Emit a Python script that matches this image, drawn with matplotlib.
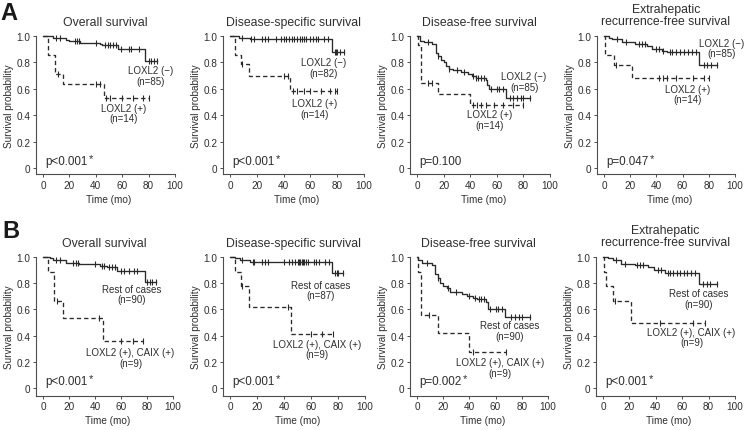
import numpy as np
import matplotlib
matplotlib.use("Agg")
import matplotlib.pyplot as plt

plt.rcParams["font.family"] = ["Liberation Sans", "DejaVu Sans"]

# ---- data: step times, survival after each step, end, censored times ----
# Row A : LOXL2 (-) vs LOXL2 (+)
A_OS_NEG_T = [0, 7.5, 17.5, 20, 28, 43, 45, 57, 77.5]
A_OS_NEG_S = [1.0, 0.985, 0.97, 0.96, 0.95, 0.94, 0.93, 0.90, 0.81]
A_OS_NEG_END = 86
A_OS_NEG_C = [10, 13, 24, 26, 27, 40, 47, 49, 51, 53, 55, 59, 65, 67, 73, 80, 82, 84, 86]
A_OS_POS_T = [0, 3.5, 9, 15, 46]
A_OS_POS_S = [1.0, 0.857, 0.714, 0.635, 0.53]
A_OS_POS_END = 80
A_OS_POS_C = [11, 40, 43, 48, 51, 60, 68, 76, 80]

A_DSS_NEG_T = [0, 7, 15, 76]
A_DSS_NEG_S = [1.0, 0.988, 0.975, 0.88]
A_DSS_NEG_END = 85
A_DSS_NEG_C = [9, 16, 18, 24, 26, 28, 34, 38, 40, 42, 44, 46, 48, 50, 52, 54, 55, 57,
               60, 62, 64, 66, 70, 73, 78, 79, 80, 82, 85]
A_DSS_POS_T = [0, 3.5, 8, 14, 45]
A_DSS_POS_S = [1.0, 0.857, 0.786, 0.70, 0.585]
A_DSS_POS_END = 80
A_DSS_POS_C = [9, 40, 43, 47, 50, 55, 60, 68, 75, 78, 80]

A_DFS_NEG_T = [0, 2, 5, 11, 14, 16, 18, 20, 22, 24, 27, 33, 38, 41, 44, 52, 53, 54, 67]
A_DFS_NEG_S = [1.0, 0.965, 0.953, 0.94, 0.87, 0.85, 0.82, 0.80, 0.77, 0.75, 0.74, 0.73,
               0.71, 0.70, 0.68, 0.665, 0.63, 0.597, 0.53]
A_DFS_NEG_END = 85
A_DFS_NEG_C = [8, 16, 24, 30, 35, 42, 44, 46, 48, 50, 56, 60, 62, 65, 70, 72, 75, 78, 80, 85]
A_DFS_POS_T = [0, 1, 3, 16, 39.5]
A_DFS_POS_S = [1.0, 0.93, 0.643, 0.563, 0.48]
A_DFS_POS_END = 80
A_DFS_POS_C = [8, 11, 42, 45, 48, 52, 58, 65, 72, 80]

A_ERFS_NEG_T = [0, 3.5, 6, 14, 24, 33, 37, 44, 48, 72.5]
A_ERFS_NEG_S = [1.0, 0.988, 0.976, 0.955, 0.94, 0.925, 0.905, 0.89, 0.877, 0.78]
A_ERFS_NEG_END = 86
A_ERFS_NEG_C = [10, 17, 27, 29, 31, 40, 42, 45, 50, 52, 55, 58, 61, 64, 67, 70, 76, 79, 82, 86]
A_ERFS_POS_T = [0, 1, 7.5, 21]
A_ERFS_POS_S = [1.0, 0.857, 0.78, 0.685]
A_ERFS_POS_END = 80
A_ERFS_POS_C = [9, 42, 45, 48, 55, 68, 76, 80]

# Row B : rest of cases vs LOXL2 (+), CAIX (+)
B_OS_REST_T = [0, 5, 7.5, 18, 28, 43.5, 49, 57, 78.5]
B_OS_REST_S = [1.0, 0.99, 0.977, 0.955, 0.945, 0.932, 0.922, 0.892, 0.81]
B_OS_REST_END = 87
B_OS_REST_C = [10, 13, 23, 25, 27, 40, 45, 47, 51, 53, 55, 60, 62, 66, 70, 72, 80, 82, 84, 87]
B_OS_POS_T = [0, 4, 8.5, 15, 46.5]
B_OS_POS_S = [1.0, 0.889, 0.667, 0.533, 0.356]
B_OS_POS_END = 77
B_OS_POS_C = [10.5, 43, 60, 69, 77]

B_DSS_REST_T = [0, 4, 7.5, 15, 75.5]
B_DSS_REST_S = [1.0, 0.99, 0.977, 0.965, 0.876]
B_DSS_REST_END = 84
B_DSS_REST_C = [9, 17, 18, 24, 26, 28, 40, 44, 46, 48, 50, 51, 52, 53, 54, 55, 56, 58,
                62, 64, 66, 70, 73, 78, 79, 80, 84]
B_DSS_POS_T = [0, 3.5, 8, 14, 45]
B_DSS_POS_S = [1.0, 0.889, 0.778, 0.622, 0.415]
B_DSS_POS_END = 76
B_DSS_POS_C = [9, 43, 60, 68, 76]

B_DFS_REST_T = [0, 1, 4, 11.5, 14, 16, 17.7, 20, 22.8, 25, 34, 38, 43, 45.5, 53, 54.4, 67]
B_DFS_REST_S = [1.0, 0.977, 0.955, 0.94, 0.87, 0.84, 0.80, 0.78, 0.76, 0.735, 0.72, 0.70,
                0.69, 0.678, 0.653, 0.603, 0.539]
B_DFS_REST_END = 86
B_DFS_REST_C = [8, 16, 24, 30, 40, 44, 47, 49, 51, 56, 60, 62, 65, 72, 75, 78, 80, 86]
B_DFS_POS_T = [0, 0.5, 3, 16, 40]
B_DFS_POS_S = [1.0, 0.889, 0.556, 0.417, 0.278]
B_DFS_POS_END = 68
B_DFS_POS_C = [9, 43, 68]

B_ERFS_REST_T = [0, 3.8, 7.6, 14, 24, 34, 39, 47, 72.7]
B_ERFS_REST_S = [1.0, 0.99, 0.977, 0.95, 0.94, 0.92, 0.90, 0.88, 0.797]
B_ERFS_REST_END = 86
B_ERFS_REST_C = [10, 17, 26, 28, 30, 42, 44, 49, 51, 53, 56, 58, 61, 64, 67, 70, 76, 79, 81, 86]
B_ERFS_POS_T = [0, 0.5, 2, 7.6, 21.5]
B_ERFS_POS_S = [1.0, 0.889, 0.778, 0.667, 0.50]
B_ERFS_POS_END = 77
B_ERFS_POS_C = [9, 43, 68, 77]

TITLES = ["Overall survival", "Disease-specific survival", "Disease-free survival",
          "Extrahepatic\nrecurrence-free survival"]
A_LABELS = [(("LOXL2 (\u2212)", "(n=85)"), ("LOXL2 (+)", "(n=14)")),
            (("LOXL2 (\u2212)", "(n=82)"), ("LOXL2 (+)", "(n=14)")),
            (("LOXL2 (\u2212)", "(n=85)"), ("LOXL2 (+)", "(n=14)")),
            (("LOXL2 (\u2212)", "(n=85)"), ("LOXL2 (+)", "(n=14)"))]
B_LABELS = [(("Rest of cases", "(n=90)"), ("LOXL2 (+), CAIX (+)", "(n=9)")),
            (("Rest of cases", "(n=87)"), ("LOXL2 (+), CAIX (+)", "(n=9)")),
            (("Rest of cases", "(n=90)"), ("LOXL2 (+), CAIX (+)", "(n=9)")),
            (("Rest of cases", "(n=90)"), ("LOXL2 (+), CAIX (+)", "(n=9)"))]
A_PVALS = [("p<0.001", "*"), ("p<0.001", "*"), ("p=0.100", ""), ("p=0.047", "*")]
B_PVALS = [("p<0.001", "*"), ("p<0.001", "*"), ("p=0.002", "*"), ("p<0.001", "*")]

A_CURVES = [
    ((A_OS_NEG_T, A_OS_NEG_S, A_OS_NEG_END, A_OS_NEG_C), (A_OS_POS_T, A_OS_POS_S, A_OS_POS_END, A_OS_POS_C)),
    ((A_DSS_NEG_T, A_DSS_NEG_S, A_DSS_NEG_END, A_DSS_NEG_C), (A_DSS_POS_T, A_DSS_POS_S, A_DSS_POS_END, A_DSS_POS_C)),
    ((A_DFS_NEG_T, A_DFS_NEG_S, A_DFS_NEG_END, A_DFS_NEG_C), (A_DFS_POS_T, A_DFS_POS_S, A_DFS_POS_END, A_DFS_POS_C)),
    ((A_ERFS_NEG_T, A_ERFS_NEG_S, A_ERFS_NEG_END, A_ERFS_NEG_C), (A_ERFS_POS_T, A_ERFS_POS_S, A_ERFS_POS_END, A_ERFS_POS_C)),
]
B_CURVES = [
    ((B_OS_REST_T, B_OS_REST_S, B_OS_REST_END, B_OS_REST_C), (B_OS_POS_T, B_OS_POS_S, B_OS_POS_END, B_OS_POS_C)),
    ((B_DSS_REST_T, B_DSS_REST_S, B_DSS_REST_END, B_DSS_REST_C), (B_DSS_POS_T, B_DSS_POS_S, B_DSS_POS_END, B_DSS_POS_C)),
    ((B_DFS_REST_T, B_DFS_REST_S, B_DFS_REST_END, B_DFS_REST_C), (B_DFS_POS_T, B_DFS_POS_S, B_DFS_POS_END, B_DFS_POS_C)),
    ((B_ERFS_REST_T, B_ERFS_REST_S, B_ERFS_REST_END, B_ERFS_REST_C), (B_ERFS_POS_T, B_ERFS_POS_S, B_ERFS_POS_END, B_ERFS_POS_C)),
]

# ---- layout (pixels) ----
W, H = 747, 431
XLO = -5.5
LINE = "#2a2a2a"
TXT = "#2e2e2e"
AXC = "#4d4d4d"

# x0px, x100px, y(1.0)px, y(0)px, ylo
A_POS = [(43, 175, 37, 169, -0.048), (230, 364, 37, 169, -0.048),
         (417, 550, 37, 169, -0.048), (604, 735, 37, 169, -0.048)]
B_POS = [(43, 173, 258, 389, -0.06), (230, 365, 258, 389, -0.06),
         (417, 548, 258, 389, -0.06), (603, 735, 258, 389, -0.06)]

# label centres (data coords): upper group, lower group
A_LPOS = [((81.5, 0.70), (61, 0.415)), ((70, 0.76), (63, 0.45)),
          ((80.5, 0.655), (54.5, 0.368)), ((90, 0.91), (64, 0.56))]
B_LPOS = [((68.5, 0.716), (67.4, 0.233)), ((67, 0.75), (64.7, 0.296)),
          ((70.4, 0.438), (63.5, 0.158)), ((72.7, 0.685), (67, 0.39))]
HALF_GAP = 0.04


def surv_at(t, s, x):
    i = np.searchsorted(np.asarray(t), x, side="right") - 1
    return np.asarray(s)[i]


def draw_curve(ax, curve, dashed):
    t, s, end, cens = curve
    xs = list(t) + [end]
    ys = list(s) + [s[-1]]
    ls = (0, (3.3, 2.2)) if dashed else "-"
    ax.step(xs, ys, where="post", color=LINE, lw=0.95, ls=ls, clip_on=False)
    ax.plot(cens, [surv_at(t, s, c) for c in cens], ls="none", marker="|",
            ms=3.8, mew=0.8, color=LINE, clip_on=False)


fig = plt.figure(figsize=(W / 100, H / 100), dpi=100)


def make_panel(pos, curves, title, labels, lpos, pval, title_y, xlabel_y):
    x0, x100, y1, y0, ylo = pos
    sx = (x100 - x0) / 100.0
    sy = (y0 - y1)
    left = x0 + XLO * sx
    bottom = y0 - ylo * sy
    ax = fig.add_axes([left / W, 1 - bottom / H, (x100 - left) / W, (bottom - y1) / H])
    ax.set_xlim(XLO, 100)
    ax.set_ylim(ylo, 1.0)
    for sp in ["top", "right"]:
        ax.spines[sp].set_visible(False)
    for sp in ["left", "bottom"]:
        ax.spines[sp].set_color(AXC)
        ax.spines[sp].set_linewidth(0.8)
    ax.set_xticks([0, 20, 40, 60, 80, 100])
    ax.set_yticks([0, 0.2, 0.4, 0.6, 0.8, 1.0])
    ax.set_yticklabels(["0", "0.2", "0.4", "0.6", "0.8", "1.0"])
    ax.tick_params(direction="out", length=2.3, width=0.7, color=AXC,
                   labelsize=7.2, labelcolor=TXT, pad=1.6)
    ax.patch.set_visible(False)

    draw_curve(ax, curves[0], False)
    draw_curve(ax, curves[1], True)

    for (line1, line2), (lx, ly) in zip(labels, lpos):
        ax.text(lx, ly + HALF_GAP, line1, ha="center", va="center", fontsize=7.0, color=TXT)
        ax.text(lx, ly - HALF_GAP, line2, ha="center", va="center", fontsize=7.0, color=TXT)
    p_txt = ax.text(2, 0.05, pval[0], ha="left", va="center", fontsize=8.4, color=TXT)
    if pval[1]:
        ax.annotate(pval[1], xy=(1, 1), xycoords=p_txt, xytext=(0.4, 2.0),
                    textcoords="offset points", ha="left", va="top",
                    fontsize=8, color=TXT)

    cx = (left + x100) / 2
    fig.text(cx / W, 1 - title_y / H, title, ha="center", va="center",
             fontsize=8.8, color=TXT, linespacing=1.1)
    fig.text((x0 + 50 * sx) / W, 1 - xlabel_y / H, "Time (mo)", ha="center",
             va="center", fontsize=7.2, color=TXT)
    fig.text((left - 27) / W, 1 - ((y1 + bottom) / 2) / H, "Survival probability",
             ha="center", va="center", rotation=90, fontsize=7.2, color=TXT)
    return ax


for i in range(4):
    ty = 16 if i == 3 else 23
    make_panel(A_POS[i], A_CURVES[i], TITLES[i], A_LABELS[i], A_LPOS[i],
               A_PVALS[i], ty, 200)
for i in range(4):
    ty = 237 if i == 3 else 244
    make_panel(B_POS[i], B_CURVES[i], TITLES[i], B_LABELS[i], B_LPOS[i],
               B_PVALS[i], ty, 421)

fig.text(9 / W, 1 - 13 / H, "A", ha="center", va="center", fontsize=17,
         fontweight="bold", color="#1a1a1a")
fig.text(11 / W, 1 - 232 / H, "B", ha="center", va="center", fontsize=17,
         fontweight="bold", color="#1a1a1a")

fig.savefig("out.png", dpi=100)
